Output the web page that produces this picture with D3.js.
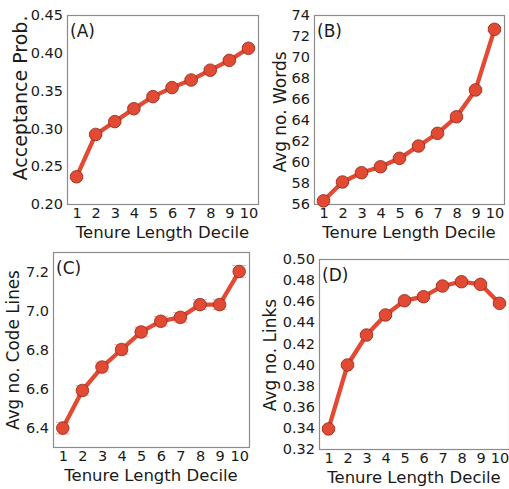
<!DOCTYPE html>
<html>
<head>
<meta charset="utf-8">
<script src="https://cdn.jsdelivr.net/npm/d3@7"></script>
<style>
  body { margin: 0; background: #fff; }
  text { font-family: "DejaVu Sans", sans-serif; fill: #1a1a1a; }
</style>
</head>
<body>
<script>
// data
var deciles = [1, 2, 3, 4, 5, 6, 7, 8, 9, 10];

var acceptProb = [0.236, 0.292, 0.309, 0.326, 0.342, 0.354, 0.364, 0.377, 0.390, 0.406];
var acceptErr  = [0.002, 0.002, 0.002, 0.002, 0.002, 0.002, 0.002, 0.002, 0.002, 0.002];
var acceptTicks = [0.20, 0.25, 0.30, 0.35, 0.40, 0.45];

var avgWords = [56.3, 58.1, 58.98, 59.55, 60.35, 61.52, 62.73, 64.31, 66.86, 72.64];
var wordsErr = [0.15, 0.15, 0.15, 0.15, 0.15, 0.15, 0.15, 0.2, 0.2, 0.2];
var wordsTicks = [56, 58, 60, 62, 64, 66, 68, 70, 72, 74];

var avgCode = [6.397, 6.59, 6.71, 6.80, 6.89, 6.945, 6.965, 7.03, 7.03, 7.20];
var codeErr = [0.03, 0.025, 0.025, 0.025, 0.025, 0.025, 0.025, 0.025, 0.025, 0.03];
var codeTicks = [6.4, 6.6, 6.8, 7.0, 7.2];

var avgLinks = [0.339, 0.3996, 0.428, 0.447, 0.4605, 0.4643, 0.4744, 0.4785, 0.476, 0.458];
var linksErr = [0.002, 0.002, 0.002, 0.002, 0.002, 0.002, 0.002, 0.002, 0.002, 0.002];
var linksTicks = [0.32, 0.34, 0.36, 0.38, 0.40, 0.42, 0.44, 0.46, 0.48, 0.50];

var xLabel = 'Tenure Length Decile';

var W = 509, H = 489;
var red = '#e24a33';

var svg = d3.select('body').append('svg')
    .attr('width', W)
    .attr('height', H);

var panels = [
  {vals: acceptProb, err: acceptErr, ticks: acceptTicks, dom: [0.20, 0.45], fmt: '.2f',
   ylab: 'Acceptance Prob.', tag: '(A)', x0: 67, x1: 258, y0: 15, y1: 204, lx: 20, ly: 98, lsize: 19},
  {vals: avgWords, err: wordsErr, ticks: wordsTicks, dom: [56, 74], fmt: 'd',
   ylab: 'Avg no. Words', tag: '(B)', x0: 314, x1: 504, y0: 15, y1: 204, lx: 280, ly: 112, lsize: 17},
  {vals: avgCode, err: codeErr, ticks: codeTicks, dom: [6.3, 7.3], fmt: '.1f',
   ylab: 'Avg no. Code Lines', tag: '(C)', x0: 53, x1: 249, y0: 252, y1: 447, lx: 13, ly: 350, lsize: 16.8},
  {vals: avgLinks, err: linksErr, ticks: linksTicks, dom: [0.32, 0.50], fmt: '.2f',
   ylab: 'Avg no. Links', tag: '(D)', x0: 319, x1: 509, y0: 259, y1: 449, lx: 270, ly: 355, lsize: 17}
];

panels.forEach(function (p) {
  var xScale = d3.scaleLinear().domain([0.5, 10.5]).range([p.x0, p.x1]);
  var yScale = d3.scaleLinear().domain(p.dom).range([p.y1, p.y0]);

  var g = svg.append('g');

  g.append('rect')
    .attr('x', p.x0 + 0.5)
    .attr('y', p.y0 + 0.5)
    .attr('width', p.x1 - p.x0)
    .attr('height', p.y1 - p.y0)
    .attr('fill', 'none')
    .attr('stroke', '#8c8c8c')
    .attr('stroke-width', 1.2);

  var yAxis = d3.axisLeft(yScale)
    .tickValues(p.ticks)
    .tickFormat(d3.format(p.fmt))
    .tickSize(0)
    .tickPadding(4);
  var ya = g.append('g')
    .attr('transform', 'translate(' + p.x0 + ',0)')
    .call(yAxis);
  ya.select('.domain').remove();
  ya.selectAll('text').attr('font-size', '14.5px').attr('font-family', '"DejaVu Sans", sans-serif').attr('fill', '#1a1a1a');

  var xAxis = d3.axisBottom(xScale)
    .tickValues(deciles)
    .tickFormat(d3.format('d'))
    .tickSize(0)
    .tickPadding(4);
  var xa = g.append('g')
    .attr('transform', 'translate(0,' + p.y1 + ')')
    .call(xAxis);
  xa.select('.domain').remove();
  xa.selectAll('text').attr('font-size', '14.5px').attr('font-family', '"DejaVu Sans", sans-serif').attr('fill', '#1a1a1a');

  g.append('text')
    .attr('x', (p.x0 + p.x1) / 2)
    .attr('y', p.y1 + 34)
    .attr('text-anchor', 'middle')
    .attr('font-size', '16.5px')
    .text(xLabel);

  g.append('text')
    .attr('transform', 'translate(' + p.lx + ',' + p.ly + ') rotate(-90)')
    .attr('text-anchor', 'middle')
    .attr('dominant-baseline', 'central')
    .attr('font-size', p.lsize + 'px')
    .text(p.ylab);

  g.append('text')
    .attr('x', p.x0 + 3)
    .attr('y', p.y0 + 22)
    .attr('font-size', '17px')
    .text(p.tag);

  // error caps
  var caps = g.append('g').attr('stroke', '#f2aaa0').attr('stroke-width', 1);
  p.vals.forEach(function (v, i) {
    var cx = xScale(deciles[i]);
    [v - p.err[i], v + p.err[i]].forEach(function (e) {
      caps.append('line')
        .attr('x1', cx - 7).attr('x2', cx + 7)
        .attr('y1', yScale(e)).attr('y2', yScale(e));
    });
  });

  var line = d3.line()
    .x(function (d, i) { return xScale(deciles[i]); })
    .y(function (d) { return yScale(d); });

  g.append('path')
    .datum(p.vals)
    .attr('d', line)
    .attr('fill', 'none')
    .attr('stroke', red)
    .attr('stroke-width', 4.3)
    .attr('stroke-linejoin', 'round');

  g.selectAll('circle')
    .data(p.vals)
    .enter()
    .append('circle')
    .attr('cx', function (d, i) { return xScale(deciles[i]); })
    .attr('cy', function (d) { return yScale(d); })
    .attr('r', 6.3)
    .attr('fill', red)
    .attr('stroke', '#8a2c1e')
    .attr('stroke-width', 0.8);
});
</script>
</body>
</html>
